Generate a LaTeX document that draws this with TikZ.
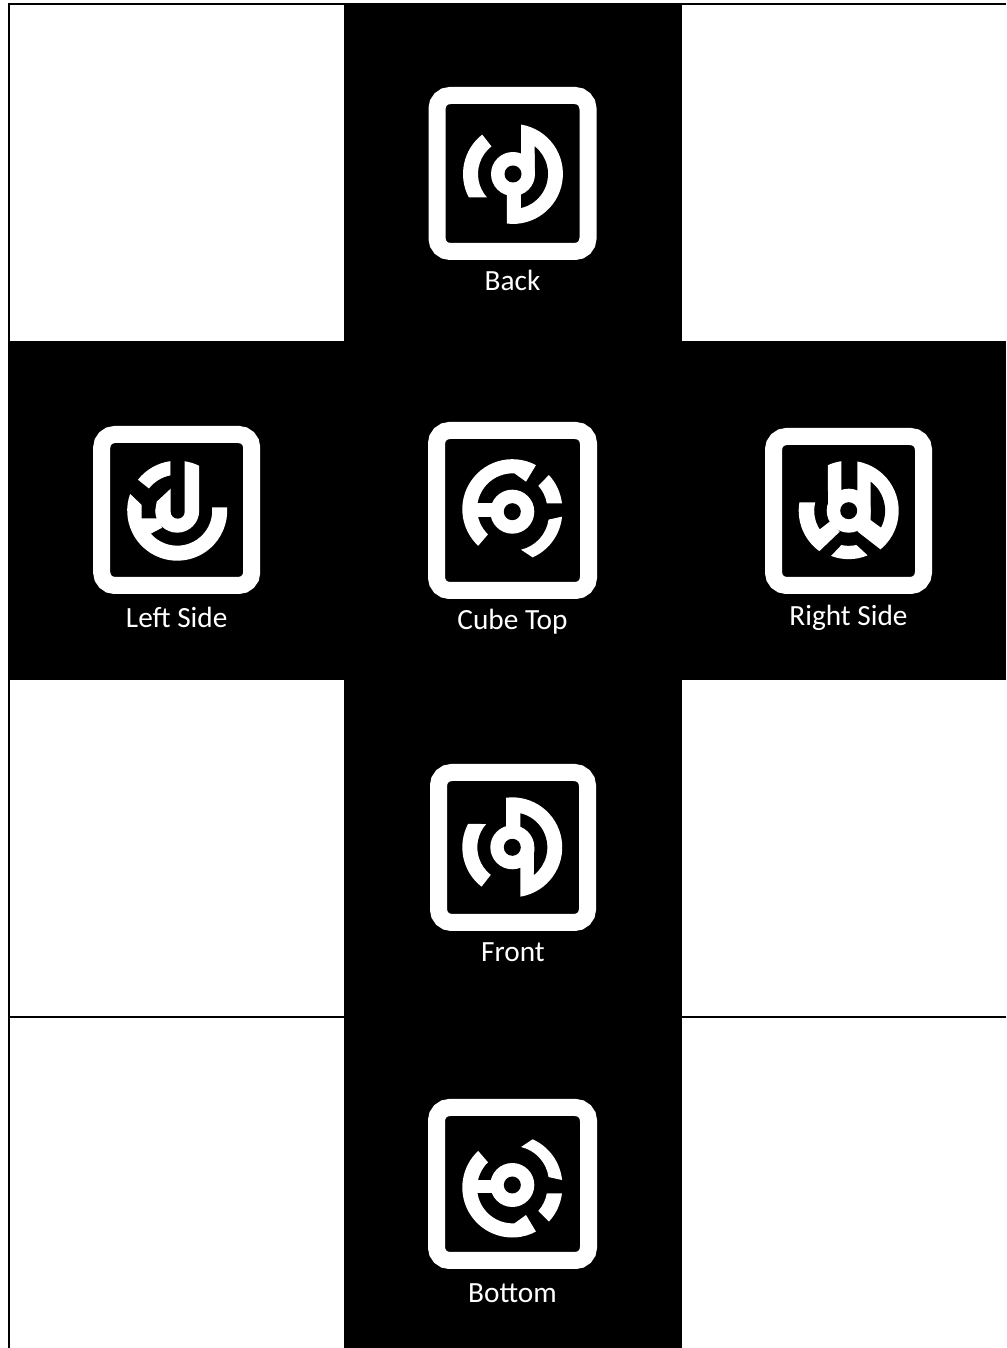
\documentclass[tikz,border=0pt]{standalone}
\usepackage{fontspec}
\setmainfont{Carlito}
\usetikzlibrary{positioning}
\newcommand{\ringseg}[4]{\fill[whitepart] (#1:50pt) arc[start angle=#1,end angle=#2,radius=50pt]
  -- (#4:35pt) arc[start angle=#4,end angle=#3,radius=35pt] -- cycle;}
\newcommand{\hubdisc}{\fill[whitepart] (0,0) circle[radius=22pt]; \fill[blackpart] (0,0) circle[radius=8.5pt];}
\tikzset{
  whitepart/.style = {fill=white},
  blackpart/.style = {fill=black},
  gridline/.style  = {black,line width=2pt},
  faceframe/.style = {draw=white,line width=17pt,rounded corners=13pt,inner sep=0pt,outer sep=0pt},
  facelabel/.style = {text=white,font=\fontsize{29.3}{32}\selectfont,inner sep=0pt,text height=20pt,text depth=6pt},
  backmark/.pic = {
    \ringseg{128}{207.8}{128}{221.7}
    \fill[whitepart] (8,49.4) arc[start angle=80.7,end angle=-97,radius=50pt] -- (-6,0) -- (8,0) -- cycle;
    \fill[blackpart] (8,-34) arc[start angle=-76.8,end angle=51.8,radius=35pt] -- (22,0) -- (8,0) -- cycle;
    \hubdisc
  },
  topmark/.pic = {
    \begin{scope}[yshift=2.5pt]
      \fill[whitepart] (61.8:50pt) arc[start angle=61.8,end angle=227,radius=50pt]
        -- (226:35pt) arc[start angle=226,end angle=87,radius=35.5pt] -- (13.7,27.5) -- cycle;
      \ringseg{43}{6.7}{42}{9.5}
    \end{scope}
    \fill[whitepart] (-5.7:50pt) arc[start angle=-5.7,end angle=-66,radius=50pt]
      -- (8.7,-38) arc[start angle=-77,end angle=-8,radius=36pt] -- cycle;
    \fill[whitepart] (-40,-5) rectangle (0,8.3);
    \hubdisc
  },
  leftmark/.pic = {
    \fill[whitepart] (160.4:50pt) arc[start angle=160.4,end angle=363.8,radius=50pt]
      -- (5.4:35pt) arc[start angle=5.4,end angle=-139,radius=35pt]
      -- (-15,-17) -- (-20.5,-7.7) -- (-35.5,-7.7) -- (-35.5,5.7) -- cycle;
    \fill[whitepart] (7,49.5) arc[start angle=81.9,end angle=63.9,radius=50pt]
      -- (22,0) arc[start angle=0,end angle=-180,radius=22pt]
      -- (-20.5,9) -- (-6.2,22.3) -- (7,22.3) -- cycle;
    \fill[whitepart] (141.7:50pt) arc[start angle=141.7,end angle=97.5,radius=50pt]
      -- (-6.5,35.4) arc[start angle=100.6,end angle=142,radius=36pt] -- cycle;
    \fill[blackpart] (-6.5,55) -- (-6.5,-1) arc[start angle=180,end angle=360,radius=7pt] -- (7.5,55) -- cycle;
  },
  rightmark/.pic = {
    \fill[whitepart] (8.7,49.2) arc[start angle=80,end angle=-50.6,radius=50pt] -- (9,-21) -- (8.7,0) -- cycle;
    \fill[blackpart] (22,29) arc[start angle=52.8,end angle=-27.5,radius=36.4pt] -- (22,-9.3) -- cycle;
    \fill[whitepart] (-7.3,0) -- (-7.3,49.5) arc[start angle=98.4,end angle=114.5,radius=50pt] -- (-20.7,0) -- cycle;
    \fill[whitepart] (170.4:50pt) arc[start angle=170.4,end angle=234,radius=50pt]
      -- (-9,-21) -- (-19,-11) -- (-29,-18.7) arc[start angle=212.8,end angle=166,radius=34.5pt] -- cycle;
    \fill[whitepart] (248.7:48.5pt) arc[start angle=248.7,end angle=292.9,radius=48.5pt]
      -- (7.7,-34.3) arc[start angle=-77.3,end angle=-102,radius=35.2pt] -- cycle;
    \hubdisc
  },
}
\begin{document}
\begin{tikzpicture}[x=1pt,y=1pt]
  \useasboundingbox (0,0) rectangle (1006,1348);
  % net of the cube
  \fill[blackpart] (344,0) rectangle (682,1345);
  \fill[blackpart] (8,668) rectangle (1006,1007);
  \draw[gridline] (9,0) -- (9,1344) -- (1006,1344);
  \draw[gridline] (9,331) -- (1006,331);
  % faces
  \node[faceframe,minimum width=151pt,minimum height=156pt] (backframe) at (512.5,1174.5) {};
  \node[faceframe,minimum width=150pt,minimum height=151pt] (leftframe) at (176.7,838) {};
  \node[faceframe,minimum width=152pt,minimum height=160pt] (topframe) at (512.5,837.5) {};
  \node[faceframe,minimum width=150pt,minimum height=149pt] (rightframe) at (848.5,837) {};
  \node[faceframe,minimum width=149pt,minimum height=150pt] (frontframe) at (513,500.5) {};
  \node[faceframe,minimum width=152pt,minimum height=153pt] (bottomframe) at (512.5,164) {};
  \pic at (513,1174) {backmark};
  \pic at (177.2,837.3) {leftmark};
  \pic at (512.3,836.3) {topmark};
  \pic at (848.7,837.3) {rightmark};
  \pic[yscale=-1] at (512.3,500.7) {backmark};
  \pic[yscale=-1] at (512.3,163) {topmark};
  % labels
  \node[facelabel,below=19pt of backframe] (backlabel) {Back};
  \node[facelabel,below=22pt of leftframe] (leftlabel) {Left Side};
  \node[facelabel,below=19pt of topframe] (toplabel) {Cube Top};
  \node[facelabel,below=20pt of rightframe] (rightlabel) {Right Side};
  \node[facelabel,below=19pt of frontframe] (frontlabel) {Front};
  \node[facelabel,below=22pt of bottomframe] (bottomlabel) {Bottom};
\end{tikzpicture}
\end{document}
